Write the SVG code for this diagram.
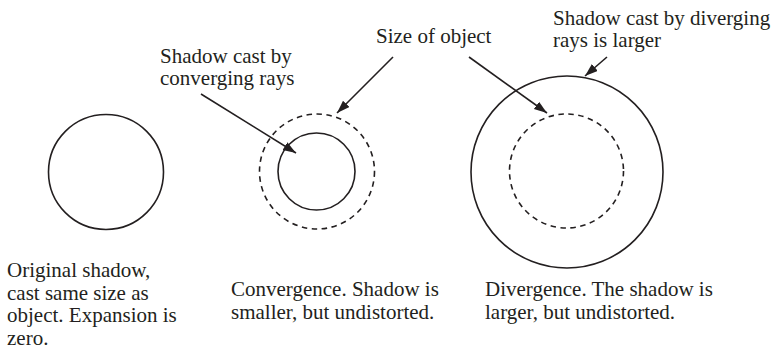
<svg xmlns="http://www.w3.org/2000/svg" width="774" height="351" viewBox="0 0 774 351">
<style>
text{font-family:"Liberation Serif","Times New Roman",serif;font-size:21px;fill:#231f20}
.c{fill:none;stroke:#231f20;stroke-width:1.6}
.d{fill:none;stroke:#231f20;stroke-width:1.6;stroke-dasharray:5.5 4.5}
.a{stroke:#231f20;stroke-width:1.6;fill:none;marker-end:url(#ah)}
</style>
<defs>
<marker id="ah" markerUnits="userSpaceOnUse" markerWidth="14" markerHeight="10" refX="13" refY="4.5" orient="auto">
<path d="M0,0 L13,4.5 L0,9 z" fill="#231f20"/>
</marker>
</defs>
<rect width="774" height="351" fill="#fff"/>
<g id="original">
<circle class="c" cx="106" cy="172" r="57.5"/>
<text x="7" y="277">Original shadow,</text>
<text x="7" y="299.5">cast same size as</text>
<text x="7" y="322">object. Expansion is</text>
<text x="7" y="344.5">zero.</text>
</g>
<g id="convergence">
<circle class="d" cx="317" cy="171.5" r="57.5"/>
<circle class="c" cx="316.5" cy="171.5" r="38.5"/>
<text x="231" y="296">Convergence. Shadow is</text>
<text x="231" y="318.5">smaller, but undistorted.</text>
</g>
<g id="divergence">
<circle class="c" cx="567" cy="172" r="96"/>
<circle class="d" cx="566.5" cy="171" r="57"/>
<text x="485" y="296">Divergence. The shadow is</text>
<text x="485" y="318.5">larger, but undistorted.</text>
</g>
<g id="label-converging">
<text x="160" y="63">Shadow cast by</text>
<text x="160" y="85">converging rays</text>
</g>
<g id="label-size">
<text x="376" y="43">Size of object</text>
</g>
<g id="label-diverging">
<text x="553" y="25">Shadow cast by diverging</text>
<text x="553" y="47">rays is larger</text>
</g>
<g id="connectors">
<line class="a" x1="201" y1="94" x2="296" y2="153"/>
<line class="a" x1="393" y1="57" x2="337" y2="113"/>
<line class="a" x1="469" y1="57" x2="547" y2="113"/>
<line class="a" x1="607" y1="57" x2="585" y2="76"/>
</g>
</svg>
